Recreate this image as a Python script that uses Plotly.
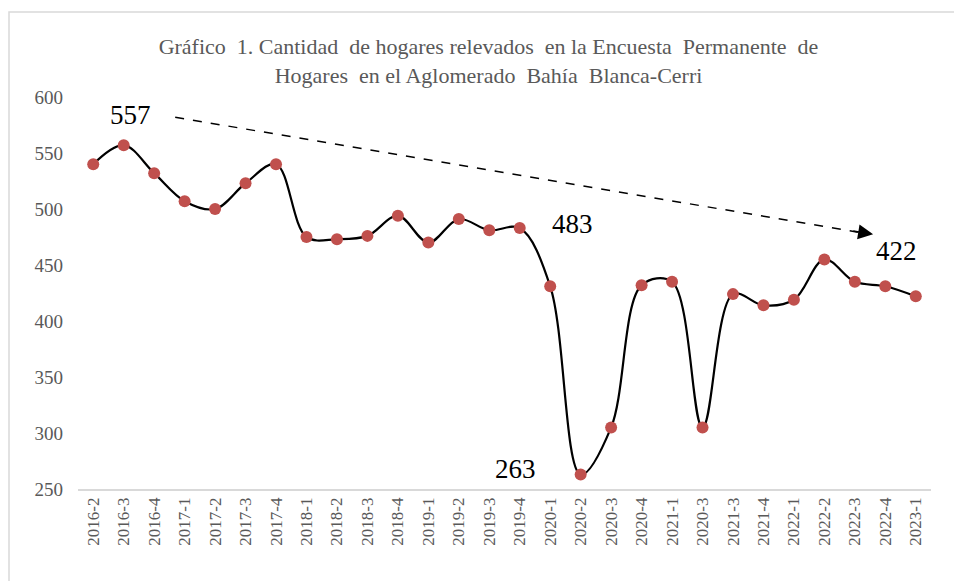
import plotly.graph_objects as go

# Quarter labels as printed in the source (note the repeated "2020-3")
periodos = ['2016-2', '2016-3', '2016-4', '2017-1', '2017-2', '2017-3', '2017-4',
            '2018-1', '2018-2', '2018-3', '2018-4', '2019-1', '2019-2', '2019-3',
            '2019-4', '2020-1', '2020-2', '2020-3', '2020-4', '2021-1', '2020-3',
            '2021-3', '2021-4', '2022-1', '2022-2', '2022-3', '2022-4', '2023-1']
hogares = [540, 557, 532, 507, 500, 523, 540,
           475, 473, 476, 494, 470, 491, 481,
           483, 431, 263, 305, 432, 435, 305,
           424, 414, 419, 455, 435, 431, 422]
y_ticks = [250, 300, 350, 400, 450, 500, 550, 600]

idx = list(range(len(periodos)))
font_fam = "Liberation Serif, Times New Roman, serif"

fig = go.Figure()
fig.add_trace(go.Scatter(
    x=idx, y=hogares,
    mode='lines+markers',
    line=dict(color='black', width=2.2, shape='spline', smoothing=1.0),
    marker=dict(color='#C0504D', size=12),
    showlegend=False,
    hoverinfo='x+y'
))

# Dashed trend arrow
fig.add_shape(type='line', x0=2.69, y0=582, x1=25.1, y1=479.3,
              xref='x', yref='y', line=dict(color='black', width=1.5, dash='dash'))
fig.add_annotation(x=25.6, y=477.4, ax=24.9, ay=480.5, xref='x', yref='y',
                   axref='x', ayref='y', showarrow=True, arrowhead=2,
                   arrowsize=2, arrowwidth=1.5, arrowcolor='black', text='')

# Value labels
labels = [(1, 1.21, 584), (14, 15.74, 486.5), (16, 13.87, 268), (27, 26.36, 462.5)]
for i, lx, ly in labels:
    fig.add_annotation(x=lx, y=ly, xref='x', yref='y', text=str(hogares[i]),
                       showarrow=False, font=dict(family=font_fam, size=27, color='black'))

fig.update_layout(
    width=962, height=581,
    margin=dict(l=70, r=39, t=89, b=100),
    paper_bgcolor='white', plot_bgcolor='white',
    title=dict(text="Gráfico  1. Cantidad  de hogares relevados  en la Encuesta  Permanente  de<br>Hogares  en el Aglomerado  Bahía  Blanca-Cerri",
               x=0.4995, xanchor='center', y=0.92, yanchor='top',
               font=dict(family=font_fam, size=22, color='#595959')),
    font=dict(family=font_fam, color='#595959'),
    xaxis=dict(range=[-0.5, len(periodos) - 0.5], tickmode='array', tickvals=idx,
               ticktext=periodos, tickangle=-90, tickfont=dict(size=17, color='#595959'),
               showgrid=False, zeroline=False, showline=True, linecolor='#D9D9D9',
               linewidth=1.5, ticks=''),
    yaxis=dict(range=[250, 600], tickmode='array', tickvals=y_ticks,
               tickfont=dict(size=19, color='#595959'), showgrid=False,
               zeroline=False, showline=False, ticks='', ticklabelstandoff=14),
)

# Outer chart border (only the left and top edges fall inside the picture)
fig.add_shape(type='rect', xref='paper', yref='paper', x0=-0.0809, y0=-0.3,
              x1=1.07, y1=1.2168, line=dict(color='#D9D9D9', width=1.5), layer='below')

fig.write_html("out.html")
